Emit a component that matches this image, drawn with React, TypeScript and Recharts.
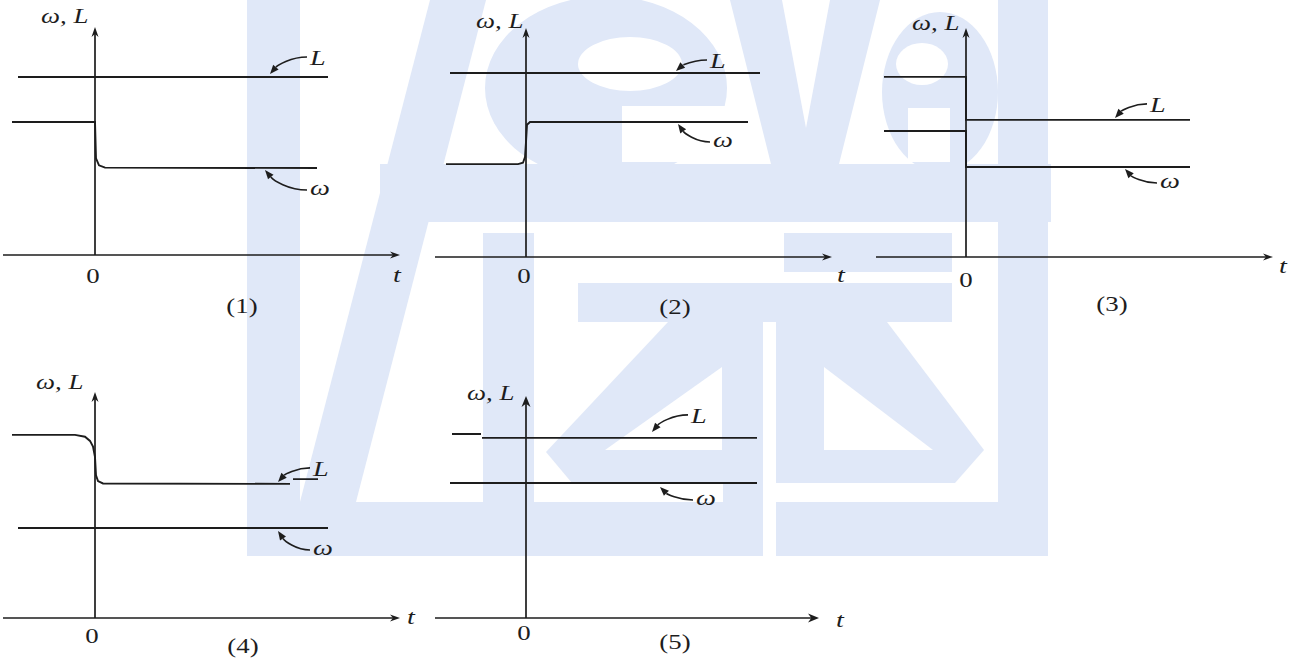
import { Line, LineChart, ReferenceDot, ReferenceLine, XAxis, YAxis } from "recharts";

// Five sketches of ω and L against t, each a step at t = 0.
type Pt = { t: number; v: number | null };

// (1) L unchanged, ω drops with a fast decay
const p1L: Pt[] = [{ t: -0.77, v: 7.74 }, { t: 2.33, v: 7.74 }];
const p1W: Pt[] = [
  { t: -0.83, v: 5.78 }, { t: 0, v: 5.78 }, { t: 0.01, v: 4.2 }, { t: 0.04, v: 3.9 },
  { t: 0.1, v: 3.8 }, { t: 2.22, v: 3.78 },
];

// (2) L unchanged, ω jumps up
const p2L: Pt[] = [{ t: -0.76, v: 8.0 }, { t: 2.34, v: 8.0 }];
const p2W: Pt[] = [
  { t: -0.8, v: 4.04 }, { t: -0.08, v: 4.04 }, { t: -0.03, v: 4.1 }, { t: -0.01, v: 4.35 },
  { t: 0, v: 5.0 }, { t: 0.01, v: 5.75 }, { t: 0.04, v: 5.87 }, { t: 2.22, v: 5.87 },
];

// (3) both step down
const p3L: Pt[] = [{ t: -0.82, v: 7.83 }, { t: 0, v: 7.83 }, { t: 0, v: 5.96 }, { t: 2.24, v: 5.96 }];
const p3W: Pt[] = [{ t: -0.82, v: 5.48 }, { t: 0, v: 5.48 }, { t: 0, v: 3.91 }, { t: 2.24, v: 3.91 }];

// (4) L falls off smoothly, ω unchanged
const p4L: Pt[] = [
  { t: -0.83, v: 7.96 }, { t: -0.2, v: 7.96 }, { t: -0.1, v: 7.88 }, { t: -0.05, v: 7.7 },
  { t: -0.02, v: 7.45 }, { t: 0, v: 7.0 }, { t: 0.01, v: 6.2 }, { t: 0.03, v: 5.95 },
  { t: 0.08, v: 5.85 }, { t: 1.95, v: 5.83 }, { t: 1.965, v: null }, { t: 1.98, v: 6.04 },
  { t: 2.23, v: 6.04 },
];
const p4W: Pt[] = [{ t: -0.77, v: 3.91 }, { t: 2.33, v: 3.91 }];

// (5) nothing happens at t = 0
const p5L: Pt[] = [
  { t: -0.74, v: 8.0 }, { t: -0.45, v: 8.0 }, { t: -0.445, v: null }, { t: -0.44, v: 7.83 },
  { t: 2.31, v: 7.83 },
];
const p5W: Pt[] = [{ t: -0.76, v: 5.87 }, { t: 2.31, v: 5.87 }];

const INK = "#1d1d1d";
const WASH = "#e0e8f8";
const FONT = '"Liberation Serif", "Times New Roman", serif';
const STRETCH = 1.28; // the scanned type is wider than Liberation Serif
const PX_PER_T = 100;
const PX_PER_V = 23;
const V_MIN = -1;
const V_MAX = 10;
const PAD = 14;

type Note = { t: number; v: number; label: string; tipOff: number; dx: number; dy: number; base: number };

type Panel = {
  key: string;
  axisLeft: number; // px where the t axis starts
  axisY: number; // px of the t axis
  tDomain: [number, number];
  yTop: number;
  series: Pt[][];
  notes: Note[];
  solidHead?: boolean;
};

const panels: Panel[] = [
  {
    key: "1", axisLeft: 3, axisY: 255, tDomain: [-0.92, 3.05], yTop: 9.91, series: [p1L, p1W],
    notes: [
      { t: 1.75, v: 7.74, label: "L", tipOff: -3, dx: 37, dy: -17, base: 8 },
      { t: 1.7, v: 3.78, label: "ω", tipOff: 2, dx: 42, dy: 20, base: 5 },
    ],
  },
  {
    key: "2", axisLeft: 435, axisY: 257, tDomain: [-0.91, 3.06], yTop: 9.96, series: [p2L, p2W],
    notes: [
      { t: 1.5, v: 8.0, label: "L", tipOff: -2, dx: 31, dy: -11, base: 8 },
      { t: 1.52, v: 5.87, label: "ω", tipOff: 2, dx: 32, dy: 18, base: 5 },
    ],
  },
  {
    key: "3", axisLeft: 876, axisY: 257, tDomain: [-0.9, 3.07], yTop: 9.96, series: [p3L, p3W],
    notes: [
      { t: 1.49, v: 5.96, label: "L", tipOff: -2, dx: 32, dy: -14, base: 8 },
      { t: 1.59, v: 3.91, label: "ω", tipOff: 2, dx: 32, dy: 14, base: 5 },
    ],
  },
  {
    key: "4", axisLeft: 3, axisY: 618, tDomain: [-0.92, 3.05], yTop: 9.83, series: [p4L, p4W],
    notes: [
      { t: 1.83, v: 5.83, label: "L", tipOff: -2, dx: 32, dy: -14, base: 8 },
      { t: 1.83, v: 3.91, label: "ω", tipOff: 3, dx: 32, dy: 19, base: 5 },
    ],
  },
  {
    key: "5", axisLeft: 435, axisY: 618, tDomain: [-0.91, 2.93], yTop: 9.65, series: [p5L, p5W],
    solidHead: true,
    notes: [
      { t: 1.26, v: 7.83, label: "L", tipOff: -6, dx: 36, dy: -17, base: 8 },
      { t: 1.34, v: 5.87, label: "ω", tipOff: 4, dx: 33, dy: 13, base: 5 },
    ],
  },
];

// Static captions: axis name, origin, t, panel number
const captions = [
  { wl: [41, 23], zero: [93, 283], t: [397, 282], num: [242, 313], text: "(1)" },
  { wl: [476, 28], zero: [524, 283], t: [841, 282], num: [675, 314], text: "(2)" },
  { wl: [912, 30], zero: [966, 287], t: [1283, 273], num: [1112, 311], text: "(3)" },
  { wl: [36, 389], zero: [92, 643], t: [411, 624], num: [243, 653], text: "(4)" },
  { wl: [467, 400], zero: [524, 640], t: [840, 627], num: [675, 649], text: "(5)" },
];

/** Serif text widened to match the scan's type. */
function Txt(props: { x: number; y: number; size: number; italic?: boolean; anchor?: "start" | "middle"; children: string }) {
  const { x, y, size, italic, anchor = "start", children } = props;
  return (
    <text
      transform={`translate(${x},${y}) scale(${STRETCH},1)`}
      fontFamily={FONT}
      fontSize={size}
      fontStyle={italic ? "italic" : "normal"}
      textAnchor={anchor}
      fill={INK}
    >
      {children}
    </text>
  );
}

function AxisHead(props: { cx?: number; cy?: number; dir: "right" | "up"; solid?: boolean }) {
  const { cx, cy, dir, solid } = props;
  if (cx == null || cy == null) return <g />;
  const l = solid ? 11 : 10;
  const w = solid ? 4.5 : 3.5;
  const d =
    dir === "right"
      ? `M${cx},${cy} L${cx - l},${cy - w} L${cx - l * 0.7},${cy} L${cx - l},${cy + w} Z`
      : `M${cx},${cy} L${cx - w},${cy + l} L${cx},${cy + l * 0.7} L${cx + w},${cy + l} Z`;
  return <path d={d} fill={INK} />;
}

function Pointer(props: { cx?: number; cy?: number; note: Note }) {
  const { cx, cy, note } = props;
  if (cx == null || cy == null) return <g />;
  const tx = cx;
  const ty = cy + note.tipOff;
  const sx = tx + note.dx;
  const sy = ty + note.dy;
  const c1x = sx - note.dx * 0.45;
  const c1y = sy;
  const c2x = tx + note.dx * 0.2;
  const c2y = ty + note.dy * 0.5;
  const a = Math.atan2(ty - c2y, tx - c2x);
  const len = 9;
  const half = 3.6;
  const bx = tx - len * Math.cos(a);
  const by = ty - len * Math.sin(a);
  const nx = -Math.sin(a) * half;
  const ny = Math.cos(a) * half;
  return (
    <g>
      <path d={`M${sx},${sy} C${c1x},${c1y} ${c2x},${c2y} ${bx},${by}`} fill="none" stroke={INK} strokeWidth={1.6} />
      <path d={`M${tx},${ty} L${bx + nx},${by + ny} L${bx},${by} L${bx - nx},${by - ny} Z`} fill={INK} />
      <Txt x={sx + 3} y={sy + note.base} size={22} italic>
        {note.label}
      </Txt>
    </g>
  );
}

function PanelChart({ p }: { p: Panel }) {
  const [t0, t1] = p.tDomain;
  const width = (t1 - t0) * PX_PER_T + 2 * PAD;
  const height = (V_MAX - V_MIN) * PX_PER_V + 2 * PAD;
  const top = p.axisY - V_MAX * PX_PER_V - PAD;
  return (
    <div style={{ position: "absolute", left: p.axisLeft - PAD, top }}>
      <LineChart width={width} height={height} margin={{ top: PAD, right: PAD, bottom: PAD, left: PAD }}>
        <XAxis dataKey="t" type="number" domain={[t0, t1]} hide allowDataOverflow />
        <YAxis type="number" domain={[V_MIN, V_MAX]} hide allowDataOverflow />
        <ReferenceLine
          segment={[{ x: t0, y: 0 }, { x: t1 - 0.05, y: 0 }]}
          stroke={INK}
          strokeWidth={1.5}
          ifOverflow="visible"
        />
        <ReferenceLine
          segment={[{ x: 0, y: 0 }, { x: 0, y: p.yTop - 0.25 }]}
          stroke={INK}
          strokeWidth={1.7}
          ifOverflow="visible"
        />
        <ReferenceDot x={t1} y={0} ifOverflow="visible" shape={(s: any) => <AxisHead cx={s.cx} cy={s.cy} dir="right" solid={p.solidHead} />} />
        <ReferenceDot x={0} y={p.yTop} ifOverflow="visible" shape={(s: any) => <AxisHead cx={s.cx} cy={s.cy} dir="up" solid={p.solidHead} />} />
        {p.series.map((s, i) => (
          <Line
            key={i}
            data={s}
            dataKey="v"
            type="linear"
            stroke={INK}
            strokeWidth={1.9}
            dot={false}
            activeDot={false}
            connectNulls={false}
            isAnimationActive={false}
          />
        ))}
        {p.notes.map((n, i) => (
          <ReferenceDot
            key={`n${i}`}
            x={n.t}
            y={n.v}
            ifOverflow="visible"
            shape={(s: any) => <Pointer cx={s.cx} cy={s.cy} note={n} />}
          />
        ))}
      </LineChart>
    </div>
  );
}

// Faint logo behind the sketches
function Watermark() {
  return (
    <svg width={1298} height={664} style={{ position: "absolute", left: 0, top: 0 }}>
      <g fill={WASH}>
        <rect x={247} y={0} width={53} height={556} />
        <polygon points="430,0 486,0 342,556 286,556" />
        <rect x={380} y={164} width={671} height={58} />
        <ellipse cx={606} cy={88} rx={121} ry={92} />
        <polygon points="730,0 880,0 838,168 772,168" />
        <ellipse cx={940} cy={92} rx={58} ry={80} />
        <rect x={998} y={0} width={50} height={556} />
        <rect x={247} y={502} width={516} height={54} />
        <rect x={776} y={502} width={272} height={54} />
        <rect x={483} y={233} width={51} height={269} />
        <rect x={784} y={233} width={168} height={39} />
        <rect x={578} y={283} width={374} height={39} />
        <polygon points="668,322 723,322 723,483 572,483 546,452" />
        <polygon points="776,322 887,322 984,450 955,483 776,483" />
      </g>
      <g fill="#ffffff">
        <ellipse cx={630} cy={64} rx={52} ry={27} />
        <rect x={622} y={106} width={106} height={56} />
        <polygon points="782,0 830,0 806,128" />
        <ellipse cx={922} cy={64} rx={26} ry={21} />
        <rect x={908} y={108} width={42} height={54} />
        <polygon points="722,367 605,450 722,450" />
        <polygon points="824,367 824,450 933,450" />
      </g>
      <rect x={723} y={322} width={40} height={234} fill={WASH} />
    </svg>
  );
}

function Captions() {
  return (
    <svg width={1298} height={664} style={{ position: "absolute", left: 0, top: 0 }}>
      {captions.map((c) => (
        <g key={c.text}>
          <Txt x={c.wl[0]} y={c.wl[1]} size={21} italic>ω, L</Txt>
          <Txt x={c.zero[0]} y={c.zero[1]} size={21} anchor="middle">0</Txt>
          <Txt x={c.t[0]} y={c.t[1]} size={22} italic anchor="middle">t</Txt>
          <Txt x={c.num[0]} y={c.num[1]} size={21} anchor="middle">{c.text}</Txt>
        </g>
      ))}
    </svg>
  );
}

export default function App() {
  return (
    <div style={{ position: "absolute", left: 0, top: 0, width: 1298, height: 664, background: "#fff", overflow: "hidden" }}>
      <Watermark />
      {panels.map((p) => (
        <PanelChart key={p.key} p={p} />
      ))}
      <Captions />
    </div>
  );
}
